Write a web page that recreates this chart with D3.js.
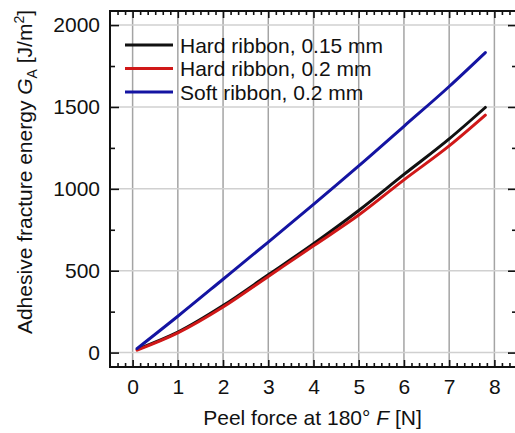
<!DOCTYPE html>
<html>
<head>
<meta charset="utf-8">
<script src="https://cdn.jsdelivr.net/npm/d3@7"></script>
<style>
  html, body { margin: 0; padding: 0; background: #fff; }
  svg { display: block; }
  text { font-family: "Liberation Sans", Arial, sans-serif; fill: #111; }
</style>
</head>
<body>
<svg id="chart" width="515" height="433"></svg>
<script>
// Peel force at 180° (N) and adhesive fracture energy (J/m²) per ribbon type
const forceN = [0.1, 1, 2, 3, 4, 5, 6, 7, 7.8];
const hardRibbon015 = [20, 125, 287, 475, 665, 868, 1088, 1305, 1497];
const hardRibbon02  = [15, 120, 278, 465, 652, 840, 1055, 1262, 1450];
const softRibbon02  = [25, 222, 448, 675, 905, 1140, 1382, 1625, 1832];

const seriesNames  = ["Hard ribbon, 0.15 mm", "Hard ribbon, 0.2 mm", "Soft ribbon, 0.2 mm"];
const seriesColors = ["#111111", "#d01818", "#1414a2"];

const xTicks = [0, 1, 2, 3, 4, 5, 6, 7, 8];
const yTicks = [0, 500, 1000, 1500, 2000];

const svg = d3.select("#chart");
const plotLeft = 110, plotRight = 517, plotTop = 11, plotBottom = 367;
const fontPx = "21px";

const x = d3.scaleLinear().domain([-0.5, 8.5]).range([plotLeft, plotRight]);
const y = d3.scaleLinear().domain([-88, 2086]).range([plotBottom, plotTop]);

// grid
const grid = svg.append("g");
grid.selectAll("line.v").data(xTicks).join("line")
  .attr("class", "v")
  .attr("x1", d => x(d)).attr("x2", d => x(d))
  .attr("y1", plotTop).attr("y2", plotBottom)
  .attr("stroke", "#a4a4a4").attr("stroke-width", 1.5);
grid.selectAll("line.h").data(yTicks).join("line")
  .attr("class", "h")
  .attr("x1", plotLeft).attr("x2", plotRight)
  .attr("y1", d => y(d)).attr("y2", d => y(d))
  .attr("stroke", "#d0d0d0").attr("stroke-width", 1.5);

// minor tick positions
const xMinor = [];
for (let i = -3; i <= 51; i++) {
  const v = i / 6;
  if (i % 6 !== 0 && v > -0.5 && v < 8.5) xMinor.push(v);
}
const yMinor = [];
for (let v = 0; v <= 2000; v += 250) if (v % 500 !== 0) yMinor.push(v);

function styleAxis(g) {
  g.select(".domain").remove();
  g.selectAll(".tick line").attr("stroke", "#111").attr("stroke-width", 1.6);
  g.selectAll(".tick text").style("font-size", fontPx).attr("fill", "#111");
}

// bottom axis
svg.append("g").attr("transform", `translate(0,${plotBottom})`)
  .call(d3.axisBottom(x).tickValues(xTicks).tickSize(-7).tickPadding(12).tickFormat(d3.format("d")))
  .call(styleAxis);
svg.append("g").attr("transform", `translate(0,${plotBottom})`)
  .call(d3.axisBottom(x).tickValues(xMinor).tickSize(-4).tickFormat(""))
  .call(styleAxis);

// top axis
svg.append("g").attr("transform", `translate(0,${plotTop})`)
  .call(d3.axisTop(x).tickValues(xTicks).tickSize(-7).tickFormat(""))
  .call(styleAxis);
svg.append("g").attr("transform", `translate(0,${plotTop})`)
  .call(d3.axisTop(x).tickValues(xMinor).tickSize(-4).tickFormat(""))
  .call(styleAxis);

// left axis
svg.append("g").attr("transform", `translate(${plotLeft},0)`)
  .call(d3.axisLeft(y).tickValues(yTicks).tickSize(-9).tickPadding(10).tickFormat(d3.format("d")))
  .call(styleAxis);
svg.append("g").attr("transform", `translate(${plotLeft},0)`)
  .call(d3.axisLeft(y).tickValues(yMinor).tickSize(-5).tickFormat(""))
  .call(styleAxis);

// right axis
svg.append("g").attr("transform", `translate(${plotRight},0)`)
  .call(d3.axisRight(y).tickValues(yTicks).tickSize(-9).tickFormat(""))
  .call(styleAxis);
svg.append("g").attr("transform", `translate(${plotRight},0)`)
  .call(d3.axisRight(y).tickValues(yMinor).tickSize(-5).tickFormat(""))
  .call(styleAxis);

// frame
svg.append("rect")
  .attr("x", plotLeft).attr("y", plotTop)
  .attr("width", plotRight - plotLeft).attr("height", plotBottom - plotTop)
  .attr("fill", "none").attr("stroke", "#111").attr("stroke-width", 2);

// curves
const seriesValues = [hardRibbon015, hardRibbon02, softRibbon02];
const line = d3.line()
  .x(d => x(d[0])).y(d => y(d[1]))
  .curve(d3.curveMonotoneX);

seriesValues.forEach((vals, i) => {
  svg.append("path")
    .datum(forceN.map((f, j) => [f, vals[j]]))
    .attr("d", line)
    .attr("fill", "none")
    .attr("stroke", seriesColors[i])
    .attr("stroke-width", 3)
    .attr("stroke-linecap", "round");
});

// legend
const legend = svg.append("g");
seriesNames.forEach((name, i) => {
  const ly = 45 + i * 23.5;
  legend.append("line")
    .attr("x1", 125).attr("x2", 173).attr("y1", ly).attr("y2", ly)
    .attr("stroke", seriesColors[i]).attr("stroke-width", 3);
  legend.append("text")
    .attr("x", 180).attr("y", ly + 7.5)
    .style("font-size", fontPx)
    .text(name);
});

// x axis title
const xt = svg.append("text")
  .attr("x", (plotLeft + 515) / 2).attr("y", 425)
  .attr("text-anchor", "middle")
  .style("font-size", fontPx);
xt.append("tspan").text("Peel force at 180° ");
xt.append("tspan").style("font-style", "italic").text("F");
xt.append("tspan").text(" [N]");

// y axis title
const yt = svg.append("text")
  .attr("transform", "translate(32,172) rotate(-90)")
  .attr("text-anchor", "middle")
  .style("font-size", fontPx);
yt.append("tspan").text("Adhesive fracture energy ");
yt.append("tspan").style("font-style", "italic").text("G");
yt.append("tspan").attr("dy", 5).style("font-size", "14px").text("A");
yt.append("tspan").attr("dy", -5).text(" [J/m");
yt.append("tspan").attr("dy", -8).style("font-size", "14px").text("2");
yt.append("tspan").attr("dy", 8).text("]");
</script>
</body>
</html>
